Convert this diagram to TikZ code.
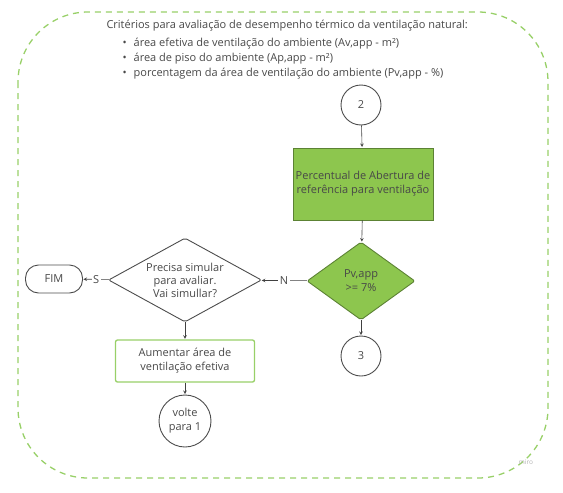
\documentclass[tikz,border=0pt]{standalone}
\usepackage{fontspec}
\setmainfont{Open Sans}
\usetikzlibrary{shapes.geometric}
\definecolor{verde}{RGB}{141,198,78}
\definecolor{verdeesc}{RGB}{92,130,52}
\definecolor{verdeclaro}{RGB}{152,208,104}
\definecolor{texto}{RGB}{72,72,72}
\begin{document}
\begin{tikzpicture}[x=1pt, y=-1pt, >=stealth, font=\fontsize{11}{14}\selectfont, text=texto]
  % estilos
  \tikzset{
    circulo/.style={circle, draw=black!70, line width=0.9pt, minimum size=40pt, inner sep=1pt},
    decisao/.style={diamond, draw=black!70, line width=0.9pt, rounded corners=2pt, inner sep=-3pt, align=center},
    processo/.style={rectangle, align=center, inner sep=2pt},
    conector/.style={->, draw=black!75, line width=0.6pt, shorten >=0.5pt},
    rotulo/.style={fill=white, inner sep=1.5pt}
  }
  \useasboundingbox (0,0) rectangle (563,493);

  % 1. moldura tracejada
  \draw[verdeclaro, line width=1.3pt, dash pattern=on 6pt off 5pt, rounded corners=70pt]
    (18,12) rectangle (548,478);

  % 2. critérios
  \node[anchor=west] (titulo) at (103,26) {Critérios para avaliação de desempenho térmico da ventilação natural:};
  \node[anchor=west] (item1) at (119,44) {\textbullet\hspace{7pt}área efetiva de ventilação do ambiente (Av,app - m²)};
  \node[anchor=west] (item2) at (119,59) {\textbullet\hspace{7pt}área de piso do ambiente (Ap,app - m²)};
  \node[anchor=west] (item3) at (119,74) {\textbullet\hspace{7pt}porcentagem da área de ventilação do ambiente (Pv,app - \%)};

  % 3. coluna da direita
  \node[circulo] (dois) at (361,105) {2};
  \node[processo, fill=verde, draw=verdeesc, line width=0.9pt,
        minimum width=140pt, minimum height=72pt] (percentual) at (363,184)
        {Percentual de Abertura de\\referência para ventilação};
  \node[decisao, aspect=1.38, fill=verde, draw=verdeesc, minimum width=108pt, minimum height=78pt]
        (pv) at (361,281) {Pv,app\\>= 7\%};
  \node[circulo] (tres) at (361,356) {3};

  % 4. coluna da esquerda
  \node[decisao, aspect=1.82, minimum width=153pt, minimum height=84pt,
        font=\fontsize{11}{13}\selectfont] (simular) at (185,280)
        {Precisa simular\\para avaliar.\\Vai simullar?};
  \node[rectangle, rounded corners=13pt, draw=black!70, line width=0.9pt,
        minimum width=57pt, minimum height=28pt] (fim) at (54,279) {FIM};
  \node[processo, draw=verdeclaro, line width=1.3pt, rounded corners=2pt,
        minimum width=139pt, minimum height=42pt] (aumentar) at (185,361)
        {Aumentar área de\\ventilação efetiva};
  \node[circulo, minimum size=52pt, align=center, inner sep=0pt] (volte) at (185,421)
        {volte\\para 1};

  % 5. conectores
  \draw[conector] (dois) -- (percentual);
  \draw[conector] (percentual) -- (pv);
  \draw[conector] (pv) -- (tres);
  \draw[conector] (pv) -- (simular) node[midway, rotulo] {N};
  \draw[conector] (simular) -- (fim) node[midway, rotulo] {S};
  \draw[conector] (simular) -- (aumentar);
  \draw[conector] (aumentar) -- (volte);

  % marca d'água
  \node[text=black!30, font=\fontsize{6.5}{8}\selectfont] (miro) at (526,462) {miro};
\end{tikzpicture}
\end{document}
